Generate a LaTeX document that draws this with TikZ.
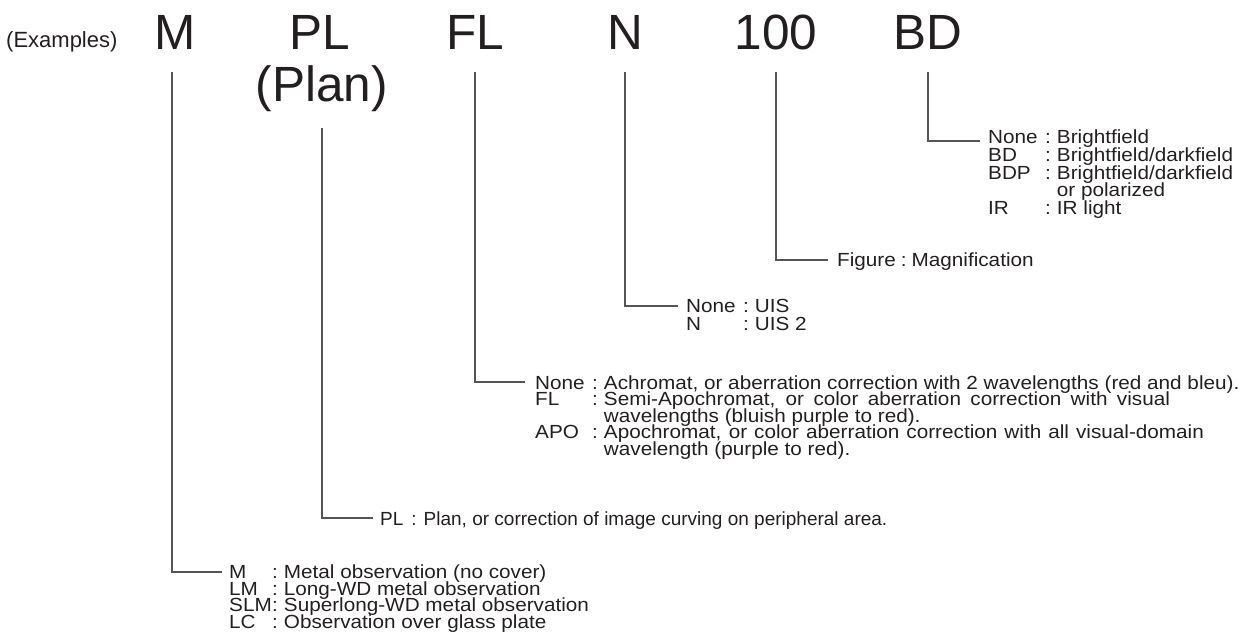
\documentclass[tikz,border=0pt]{standalone}
\usepackage{fontspec}
\setmainfont{Liberation Sans}
\newfontfamily\descfont[FakeStretch=1.09]{Liberation Sans}
\newfontfamily\plainfont{Liberation Sans}
\definecolor{ink}{HTML}{231F20}
\definecolor{rulegray}{HTML}{555555}
\newcommand\lab[2][57pt]{\makebox[#1][l]{#2}:\hspace{6pt}}
\newcommand\nolab[1][57pt]{\makebox[#1][l]{}\phantom{:}\hspace{6pt}}
\newcommand\fit[2]{\makebox[#1pt][s]{#2}}
\begin{document}
\begin{tikzpicture}[x=1pt,y=-1pt,
  big/.style={font=\fontsize{49.5pt}{49.5pt}\selectfont, inner sep=0pt, anchor=base, text=ink},
  ln/.style={font=\descfont\fontsize{19pt}{20pt}\selectfont, inner sep=0pt, anchor=base west, text=ink},
  conn/.style={draw=rulegray, line width=1.2pt}]
\useasboundingbox (0,0) rectangle (1248,644);

% header
\node[anchor=base west, inner sep=0pt, font=\fontsize{22pt}{22pt}\selectfont, text=ink] (ex) at (6,48) {(Examples)};
\node[big] (M) at (175,50) {M};
\node[big] (PL) at (320,50) {PL};
\node[big] (Plan) at (322,102) {(Plan)};
\node[big] (FL) at (475,50) {FL};
\node[big] (N) at (625,50) {N};
\node[big] (H) at (776,50) {100};
\node[big] (BD) at (928,50) {BD};

% BD block
\node[ln] (bd1) at (988,143.5) {\lab{None}Brightfield};
\node[ln] (bd2) at (988,161.3) {\lab{BD}Brightfield/darkfield};
\node[ln] (bd3) at (988,179.1) {\lab{BDP}Brightfield/darkfield};
\node[ln] (bd4) at (988,196.9) {\nolab or polarized};
\node[ln] (bd5) at (988,214.7) {\lab{IR}IR light};

% magnification
\node[ln] (hd) at (837,267) {Figure\hspace{5pt}:\hspace{5pt}Magnification};

% N block
\node[ln] (n1) at (686,313) {\lab{None}UIS};
\node[ln] (n2) at (686,331) {\lab{N}UIS 2};

% FL block
\node[ln] (fl1) at (535,389) {\lab{None}Achromat, or aberration correction with 2 wavelengths (red and bleu).};
\node[ln] (fl2) at (535,405.5) {\lab{FL}\fit{566}{Semi-Apochromat, or color aberration correction with visual}};
\node[ln] (fl3) at (535,422) {\nolab wavelengths (bluish purple to red).};
\node[ln] (fl4) at (535,438.5) {\lab{APO}\fit{600}{Apochromat, or color aberration correction with all visual-domain}};
\node[ln] (fl5) at (535,455) {\nolab wavelength (purple to red).};

% PL line
\node[ln, font=\plainfont\fontsize{19pt}{20pt}\selectfont] (pl1) at (380,525) {PL\hspace{8pt}:\hspace{7pt}Plan, or correction of image curving on peripheral area.};

% M block
\node[ln] (m1) at (229,578.5) {\lab[43pt]{M}Metal observation (no cover)};
\node[ln] (m2) at (229,595.2) {\lab[43pt]{LM}Long-WD metal observation};
\node[ln] (m3) at (229,611.9) {\lab[43pt]{SLM}Superlong-WD metal observation};
\node[ln] (m4) at (229,628.6) {\lab[43pt]{LC}Observation over glass plate};

% connectors
\draw[conn] ([yshift=-22pt]BD.base) |- ([xshift=-8pt,yshift=2.5pt]bd1.base west);
\draw[conn] ([yshift=-22pt]H.base) |- ([xshift=-9pt,yshift=7pt]hd.base west);
\draw[conn] ([yshift=-22pt]N.base) |- ([xshift=-8pt,yshift=7pt]n1.base west);
\draw[conn] ([yshift=-22pt]FL.base) |- ([xshift=-10pt,yshift=7pt]fl1.base west);
\draw[conn] ([yshift=-26pt]Plan.base) |- ([xshift=-7pt,yshift=7pt]pl1.base west);
\draw[conn] ([xshift=-3pt,yshift=-22pt]M.base) |- ([xshift=-7pt,yshift=6.5pt]m1.base west);
\end{tikzpicture}
\end{document}
